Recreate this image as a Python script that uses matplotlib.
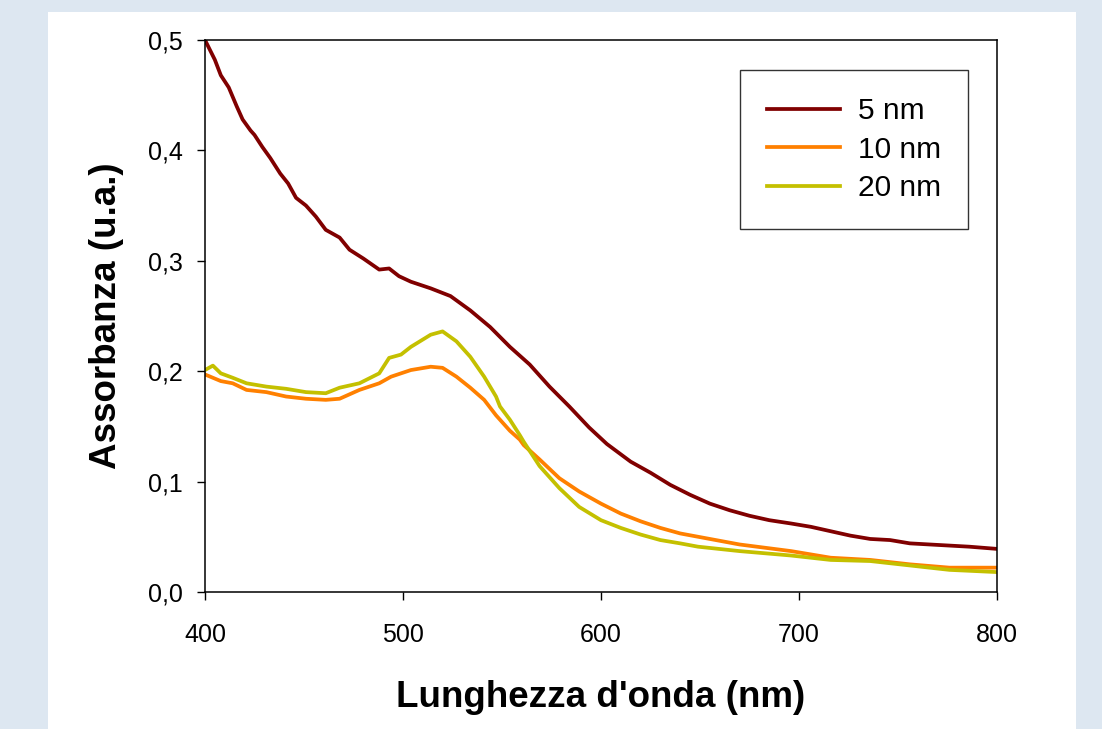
import matplotlib
matplotlib.use('Agg')
import matplotlib.pyplot as plt
from matplotlib.patches import Rectangle

plt.rcParams['font.family'] = ['Liberation Sans', 'DejaVu Sans']

# absorbance spectra (wavelength in nm, absorbance in a.u.)
wl_5 = [400, 405, 408, 412, 416, 419, 423, 425, 429, 433, 438, 442, 446, 451, 456,
        461, 468, 473, 480, 488, 493, 498, 504, 514, 524, 534, 544, 554, 564, 574,
        584, 594, 603, 615, 625, 635, 645, 655, 665, 675, 685, 696, 706, 716, 726,
        736, 746, 756, 766, 776, 786, 800]
abs_5 = [0.500, 0.482, 0.468, 0.457, 0.440, 0.428, 0.418, 0.414, 0.403, 0.393, 0.379,
         0.370, 0.357, 0.350, 0.340, 0.328, 0.321, 0.310, 0.302, 0.292, 0.293, 0.286,
         0.281, 0.275, 0.268, 0.255, 0.240, 0.222, 0.206, 0.186, 0.168, 0.149, 0.134,
         0.118, 0.108, 0.097, 0.088, 0.080, 0.074, 0.069, 0.065, 0.062, 0.059, 0.055,
         0.051, 0.048, 0.047, 0.044, 0.043, 0.042, 0.041, 0.039]

wl_10 = [400, 408, 414, 421, 431, 441, 451, 461, 468, 478, 488, 494, 499, 504, 514,
         520, 527, 534, 541, 547, 554, 559, 561, 569, 579, 589, 594, 600, 610,
         620, 630, 640, 649, 670, 696, 716, 736, 756, 776, 800]
abs_10 = [0.197, 0.191, 0.189, 0.183, 0.181, 0.177, 0.175, 0.174, 0.175, 0.183, 0.189,
          0.195, 0.198, 0.201, 0.204, 0.203, 0.195, 0.185, 0.174, 0.160, 0.146,
          0.138, 0.133, 0.120, 0.103, 0.091, 0.086, 0.080, 0.071, 0.064, 0.058, 0.053,
          0.050, 0.043, 0.037, 0.031, 0.029, 0.025, 0.022, 0.022]

wl_20 = [400, 404, 408, 414, 421, 431, 441, 451, 461, 468, 478, 488, 493, 499, 504,
         514, 520, 527, 534, 541, 547, 549, 554, 559, 561, 569, 579, 589, 600, 610,
         620, 630, 640, 649, 670, 696, 716, 736, 756, 776, 800]
abs_20 = [0.201, 0.205, 0.198, 0.194, 0.189, 0.186, 0.184, 0.181, 0.180, 0.185, 0.189,
          0.198, 0.212, 0.215, 0.222, 0.233, 0.236, 0.227, 0.213, 0.195, 0.177, 0.168,
          0.156, 0.142, 0.136, 0.114, 0.094, 0.077, 0.065, 0.058, 0.052, 0.047, 0.044,
          0.041, 0.037, 0.033, 0.029, 0.028, 0.024, 0.020, 0.018]

labels = ['5 nm', '10 nm', '20 nm']
colors = ['#800000', '#ff8000', '#c4c000']

xticks = [400, 500, 600, 700, 800]
yticks = [0.0, 0.1, 0.2, 0.3, 0.4, 0.5]
ytick_labels = ['0,0', '0,1', '0,2', '0,3', '0,4', '0,5']

fig = plt.figure(figsize=(11.02, 7.29), dpi=100)
fig.patch.set_facecolor('#dde7f1')
# white panel behind the chart
fig.patches.append(Rectangle((48 / 1102, 0), 1028 / 1102, 717 / 729,
                             transform=fig.transFigure, facecolor='white',
                             edgecolor='none', zorder=-10))

ax = fig.add_axes([0.186, 0.188, 0.7187, 0.7572])
ax.set_facecolor('white')

for wl, a, lab, c in zip([wl_5, wl_10, wl_20], [abs_5, abs_10, abs_20], labels, colors):
    ax.plot(wl, a, color=c, lw=2.7, label=lab, solid_joinstyle='round')

ax.set_xlim(400, 800)
ax.set_ylim(0, 0.5)
ax.set_xticks(xticks)
ax.set_yticks(yticks)
ax.set_yticklabels(ytick_labels)
ax.tick_params(direction='out', length=6, width=1, labelsize=18, colors='black')
ax.tick_params(axis='x', pad=16)
ax.tick_params(axis='y', pad=10)
for s in ax.spines.values():
    s.set_linewidth(1.1)

ax.set_xlabel("Lunghezza d'onda (nm)", fontsize=26.5, fontweight='bold', labelpad=24)
ax.set_ylabel('Assorbanza (u.a.)', fontsize=26.5, fontweight='bold', labelpad=17)

leg = ax.legend(loc='upper left', bbox_to_anchor=(0.676, 0.945), fontsize=21.5,
                frameon=True, fancybox=False, handlelength=2.45, handletextpad=0.6,
                borderpad=0.9, labelspacing=0.35, borderaxespad=0)
leg.get_frame().set_edgecolor('black')
leg.get_frame().set_linewidth(1.0)

fig.savefig('out.png', dpi=100, facecolor=fig.get_facecolor())
